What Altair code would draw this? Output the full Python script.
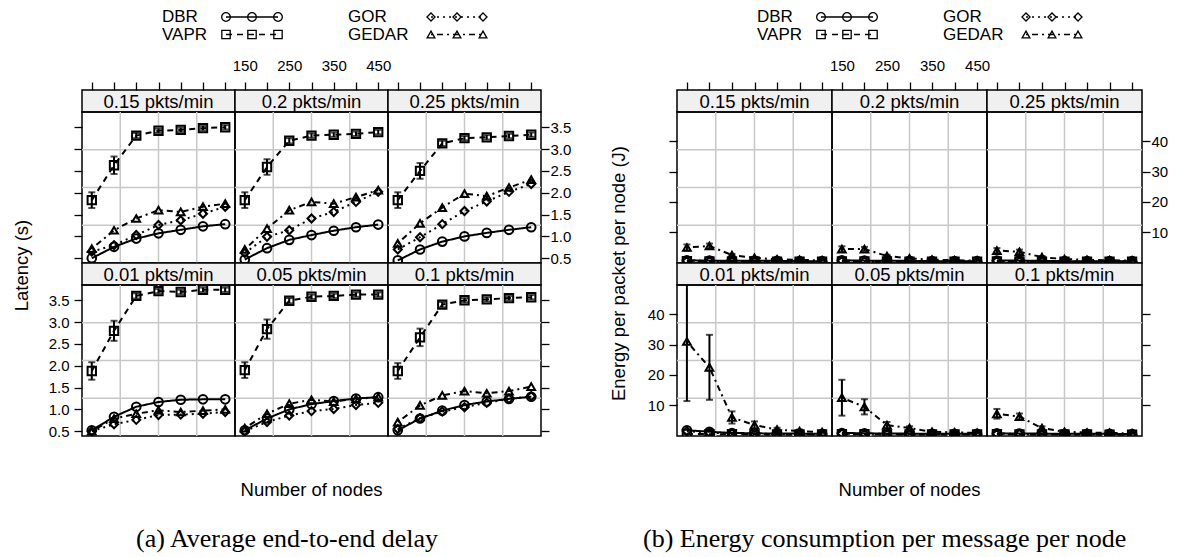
import altair as alt
import pandas as pd

FONT = "Liberation Sans"
SERIF = "Liberation Serif"
GRID = "#c8c8c8"

nodes = [150, 200, 250, 300, 350, 400, 450]
series = ["DBR", "VAPR", "GOR", "GEDAR"]
rates_top = ["0.15", "0.2", "0.25"]
rates_bottom = ["0.01", "0.05", "0.1"]

# ---------------- latency (s) ----------------
lat_dbr = {
    "0.01": [0.52, 0.83, 1.06, 1.17, 1.22, 1.23, 1.23],
    "0.05": [0.52, 0.79, 1.00, 1.12, 1.19, 1.25, 1.28],
    "0.1": [0.52, 0.79, 0.97, 1.10, 1.18, 1.24, 1.29],
    "0.15": [0.50, 0.76, 0.95, 1.07, 1.15, 1.23, 1.28],
    "0.2": [0.47, 0.73, 0.92, 1.03, 1.13, 1.21, 1.27],
    "0.25": [0.45, 0.70, 0.88, 1.00, 1.08, 1.15, 1.21],
}
lat_vapr = {
    "0.01": [1.88, 2.80, 3.60, 3.71, 3.69, 3.74, 3.74],
    "0.05": [1.90, 2.84, 3.49, 3.58, 3.60, 3.63, 3.63],
    "0.1": [1.88, 2.65, 3.40, 3.50, 3.52, 3.55, 3.57],
    "0.15": [1.83, 2.63, 3.31, 3.42, 3.44, 3.48, 3.50],
    "0.2": [1.83, 2.59, 3.19, 3.31, 3.33, 3.35, 3.39],
    "0.25": [1.83, 2.50, 3.13, 3.25, 3.27, 3.30, 3.33],
}
lat_vapr_err = {
    "0.01": [0.20, 0.23, 0.06, 0.05, 0.05, 0.05, 0.05],
    "0.05": [0.18, 0.22, 0.06, 0.05, 0.05, 0.05, 0.05],
    "0.1": [0.18, 0.20, 0.06, 0.05, 0.05, 0.05, 0.05],
    "0.15": [0.18, 0.20, 0.06, 0.05, 0.05, 0.05, 0.05],
    "0.2": [0.18, 0.18, 0.06, 0.05, 0.05, 0.05, 0.05],
    "0.25": [0.18, 0.18, 0.06, 0.05, 0.05, 0.05, 0.05],
}
lat_gor = {
    "0.01": [0.50, 0.66, 0.76, 0.87, 0.88, 0.90, 0.94],
    "0.05": [0.50, 0.71, 0.86, 0.96, 1.01, 1.10, 1.15],
    "0.1": [0.55, 0.80, 0.95, 1.05, 1.15, 1.24, 1.30],
    "0.15": [0.65, 0.80, 1.03, 1.26, 1.37, 1.52, 1.68],
    "0.2": [0.62, 0.99, 1.14, 1.41, 1.56, 1.79, 2.02],
    "0.25": [0.70, 0.98, 1.28, 1.58, 1.80, 2.02, 2.20],
}
lat_gedar = {
    "0.01": [0.50, 0.79, 0.90, 0.98, 0.94, 0.97, 1.00],
    "0.05": [0.57, 0.90, 1.13, 1.22, 1.18, 1.24, 1.28],
    "0.1": [0.71, 1.09, 1.32, 1.42, 1.37, 1.42, 1.52],
    "0.15": [0.72, 1.14, 1.41, 1.60, 1.56, 1.68, 1.75],
    "0.2": [0.70, 1.18, 1.60, 1.79, 1.75, 1.90, 2.06],
    "0.25": [0.84, 1.30, 1.66, 1.98, 1.92, 2.12, 2.30],
}

# ---------------- energy (J) ----------------
en_dbr = {
    "0.01": [1.8, 1.3, 0.9, 0.8, 0.7, 0.7, 0.6],
    "0.05": [0.9, 0.8, 0.7, 0.7, 0.6, 0.6, 0.6],
    "0.1": [0.8, 0.7, 0.7, 0.6, 0.6, 0.6, 0.5],
    "0.15": [0.8, 0.7, 0.6, 0.6, 0.6, 0.5, 0.5],
    "0.2": [0.8, 0.7, 0.6, 0.6, 0.5, 0.5, 0.5],
    "0.25": [0.7, 0.7, 0.6, 0.5, 0.5, 0.5, 0.5],
}
en_vapr = {
    "0.01": [0.6, 0.5, 0.5, 0.4, 0.4, 0.4, 0.4],
    "0.05": [0.5, 0.5, 0.4, 0.4, 0.4, 0.4, 0.4],
    "0.1": [0.5, 0.4, 0.4, 0.4, 0.4, 0.3, 0.3],
    "0.15": [0.5, 0.4, 0.4, 0.4, 0.3, 0.3, 0.3],
    "0.2": [0.4, 0.4, 0.4, 0.3, 0.3, 0.3, 0.3],
    "0.25": [0.4, 0.4, 0.3, 0.3, 0.3, 0.3, 0.3],
}
en_gor = {
    "0.01": [1.5, 1.0, 0.7, 0.6, 0.6, 0.5, 0.5],
    "0.05": [0.7, 0.6, 0.6, 0.5, 0.5, 0.5, 0.5],
    "0.1": [0.6, 0.6, 0.5, 0.5, 0.5, 0.5, 0.4],
    "0.15": [0.6, 0.6, 0.5, 0.5, 0.5, 0.4, 0.4],
    "0.2": [0.6, 0.5, 0.5, 0.5, 0.4, 0.4, 0.4],
    "0.25": [0.6, 0.5, 0.5, 0.4, 0.4, 0.4, 0.4],
}
en_gedar = {
    "0.01": [31.0, 22.5, 6.0, 3.5, 2.0, 1.5, 1.2],
    "0.05": [12.5, 9.5, 3.5, 2.5, 1.3, 1.1, 0.9],
    "0.1": [7.2, 6.3, 2.5, 1.3, 1.0, 0.9, 0.8],
    "0.15": [5.0, 5.5, 2.5, 1.6, 1.1, 0.9, 0.8],
    "0.2": [4.5, 4.5, 2.2, 1.4, 1.0, 0.8, 0.7],
    "0.25": [4.0, 3.6, 1.8, 1.2, 0.9, 0.8, 0.7],
}
en_gedar_err = {
    "0.01": [19.6, 10.7, 2.0, 1.2, 0.6, 0.5, 0.4],
    "0.05": [5.9, 2.5, 1.0, 0.6, 0.3, 0.3, 0.2],
    "0.1": [1.6, 1.0, 0.6, 0.3, 0.2, 0.2, 0.2],
    "0.15": [1.0, 0.8, 0.4, 0.3, 0.2, 0.2, 0.2],
    "0.2": [0.9, 0.7, 0.4, 0.3, 0.2, 0.2, 0.2],
    "0.25": [0.8, 0.7, 0.4, 0.3, 0.2, 0.2, 0.2],
}

x_title = "Number of nodes"
captions = ["(a) Average end-to-end delay",
            "(b) Energy consumption per message per node"]

records = []


def add(metric, name, vals, errs=None):
    for rate, v in vals.items():
        e = errs[rate] if errs else [0.0] * len(v)
        for n, y, er in zip(nodes, v, e):
            records.append(dict(metric=metric, series=name, rate=rate,
                                nodes=n, value=y, err=er))


add("lat", "DBR", lat_dbr)
add("lat", "VAPR", lat_vapr, lat_vapr_err)
add("lat", "GOR", lat_gor)
add("lat", "GEDAR", lat_gedar)
add("en", "DBR", en_dbr)
add("en", "VAPR", en_vapr)
add("en", "GOR", en_gor)
add("en", "GEDAR", en_gedar, en_gedar_err)
df = pd.DataFrame(records)

XDOM = [128, 472]
H = 151
S = 22
LEGH = 86
CAPH = 118
GAP = 136
TFS = 18.5
DASHES = [[1, 0], [8, 7], [2, 5], [2, 5, 8, 5]]
SHAPES = ["circle", "square", "diamond", "triangle-up"]
SIZES = [110, 80, 130, 150]

lat_cfg = dict(dom=[0.39, 3.85], ticks=[0.5, 1.0, 1.5, 2.0, 2.5, 3.0, 3.5],
               fmt=".1f", title="Latency (s)", tx=-61, ty=-20)
en_cfg = dict(dom=[-0.1, 49.6], ticks=[10, 20, 30, 40],
              fmt="d", title="Energy per packet per node (J)", tx=-59, ty=-12)

AX_COMMON = dict(tickSize=8, tickWidth=1.3, tickColor="black", domain=False,
                 grid=False, labelFont=FONT, labelFontSize=15,
                 labelColor="black", labelFlush=False, labelOverlap=False)
LABEL_EXPR = "datum.value % 100 == 50 ? datum.label : ''"
NOVIEW = alt.ViewBackground(stroke="transparent")


def xscale():
    return alt.Scale(domain=XDOM, nice=False, zero=False)


def blank(w, h):
    return alt.Chart(pd.DataFrame({"a": [0]})).mark_point(opacity=0).encode(
        x=alt.value(0), y=alt.value(0)).properties(width=w, height=h, view=NOVIEW)


def panel(metric, rate, row, col, W, cfg):
    d = df[(df.metric == metric) & (df.rate == rate)]
    xs = xscale()
    ys = alt.Scale(domain=cfg["dom"], nice=False, zero=False)
    y0, y1 = cfg["dom"]
    gx = pd.DataFrame({"g": [XDOM[0] + (XDOM[1] - XDOM[0]) * k / 4 for k in (1, 2, 3)]})
    gy = pd.DataFrame({"g": [y0 + (y1 - y0) * k / 4 for k in (1, 2, 3)]})

    if row == 1:
        xax = alt.Axis(**dict(AX_COMMON, orient="bottom", values=nodes, labelPadding=9,
                              labelExpr=LABEL_EXPR, labels=(col != 1), title=None))
    else:
        xax = None

    left_ax = None
    right_ax = None
    if col == 0:
        kw = dict(AX_COMMON, orient="left", values=cfg["ticks"], format=cfg["fmt"],
                  labels=(row == 1), labelPadding=5)
        if row == 1:
            kw.update(title=cfg["title"], titleFont=FONT, titleFontSize=TFS,
                      titleFontWeight="normal", titleColor="black",
                      titleX=cfg["tx"], titleY=cfg["ty"], titleAngle=270,
                      titleBaseline="middle", titleAlign="center")
        else:
            kw.update(title=None)
        left_ax = alt.Axis(**kw)
    if col == 2:
        right_ax = alt.Axis(**dict(AX_COMMON, orient="right", values=cfg["ticks"],
                                   format=cfg["fmt"], labels=(row == 0),
                                   labelPadding=1, title=None))

    vgrid = alt.Chart(gx).mark_rule(color=GRID, strokeWidth=1.5).encode(
        x=alt.X("g:Q", scale=xs, axis=xax))
    hgrid = alt.Chart(gy).mark_rule(color=GRID, strokeWidth=1.5).encode(
        y=alt.Y("g:Q", scale=ys, axis=left_ax))
    hgrid2 = alt.Chart(gy).mark_rule(opacity=0).encode(
        y=alt.Y("g:Q", scale=ys, axis=right_ax))

    ex = alt.X("nodes:Q", scale=xs, axis=None)
    ey = alt.Y("value:Q", scale=ys, axis=None)
    base = alt.Chart(d)
    lines = base.mark_line(color="black", strokeWidth=2, clip=True).encode(
        x=ex, y=ey, detail="series:N",
        strokeDash=alt.StrokeDash("series:N", scale=alt.Scale(domain=series, range=DASHES), legend=None),
        order="nodes:Q")
    pts = base.mark_point(filled=False, color="black", strokeWidth=2, opacity=1, clip=True).encode(
        x=ex, y=ey,
        shape=alt.Shape("series:N", scale=alt.Scale(domain=series, range=SHAPES), legend=None),
        size=alt.Size("series:N", scale=alt.Scale(domain=series, range=SIZES), legend=None))
    eb = base.transform_filter("datum.err > 0").transform_calculate(
        lo="datum.value - datum.err", hi="datum.value + datum.err")
    rule = eb.mark_rule(color="black", strokeWidth=2, clip=True).encode(
        x=ex, y=alt.Y("lo:Q", scale=ys, axis=None), y2="hi:Q")
    cap_lo = eb.mark_tick(orient="horizontal", color="black", size=7, thickness=2, clip=True).encode(
        x=ex, y=alt.Y("lo:Q", scale=ys, axis=None))
    cap_hi = eb.mark_tick(orient="horizontal", color="black", size=7, thickness=2, clip=True).encode(
        x=ex, y=alt.Y("hi:Q", scale=ys, axis=None))
    return alt.layer(vgrid, hgrid, hgrid2, lines, rule, cap_lo, cap_hi, pts).resolve_axis(
        y="independent").properties(width=W, height=H)


def strip(rate, row, col, W):
    lab = pd.DataFrame({"label": [rate + " pkts/min"]})
    txt = alt.Chart(lab).mark_text(font=FONT, fontSize=TFS, color="black").encode(
        text="label:N", x=alt.value(W / 2), y=alt.value(S / 2 + 1))
    if row == 0:
        kw = dict(AX_COMMON, orient="top", values=nodes, labels=(col == 1),
                  labelPadding=9, labelExpr=LABEL_EXPR, title=None)
        axl = alt.Chart(pd.DataFrame({"nodes": nodes})).mark_point(opacity=0).encode(
            x=alt.X("nodes:Q", scale=xscale(), axis=alt.Axis(**kw)))
        ch = alt.layer(axl, txt)
    else:
        ch = txt
    return ch.properties(width=W, height=S,
                         view=alt.ViewBackground(fill="#f0f0f0", stroke="black", strokeWidth=1.5))


leg_df = pd.DataFrame({"series": series, "lcol": [0, 0, 1, 1], "lrow": [0, 1, 0, 1]})
leg_pts = pd.DataFrame([dict(series=s, lcol=c, lrow=r, k=k)
                        for s, c, r in zip(series, [0, 0, 1, 1], [0, 1, 0, 1])
                        for k in range(3)])


def legend(W):
    lx = alt.Scale(domain=[0, 460], range=[0, 460], nice=False, zero=False)
    ly = alt.Scale(domain=[0, 40], range=[0, 40], nice=False, zero=False)
    txt = alt.Chart(leg_df).transform_calculate(
        tx="datum.lcol == 0 ? 80 : 266", ty="13 + 17.5 * datum.lrow").mark_text(
        font=FONT, fontSize=17, color="black", align="left", baseline="middle").encode(
        x=alt.X("tx:Q", scale=lx, axis=None), y=alt.Y("ty:Q", scale=ly, axis=None), text="series:N")
    pbase = alt.Chart(leg_pts).transform_calculate(
        sx="(datum.lcol == 0 ? 144 : 349) + 26 * datum.k", sy="13 + 17.5 * datum.lrow")
    lns = pbase.mark_line(color="black", strokeWidth=1.5).encode(
        x=alt.X("sx:Q", scale=lx, axis=None), y=alt.Y("sy:Q", scale=ly, axis=None),
        detail="series:N", order="k:Q",
        strokeDash=alt.StrokeDash("series:N", scale=alt.Scale(domain=series, range=[[1, 0], [6, 5], [2, 4], [2, 4, 6, 4]]), legend=None))
    pts = pbase.mark_point(filled=False, color="black", strokeWidth=1.3, opacity=1).encode(
        x=alt.X("sx:Q", scale=lx, axis=None), y=alt.Y("sy:Q", scale=ly, axis=None),
        shape=alt.Shape("series:N", scale=alt.Scale(domain=series, range=SHAPES), legend=None),
        size=alt.Size("series:N", scale=alt.Scale(domain=series, range=[75, 60, 95, 105]), legend=None))
    return alt.layer(lns, pts, txt).properties(width=W, height=LEGH, view=NOVIEW)


def caption(text, lx0, W):
    cd = pd.DataFrame({"t": [text]})
    return alt.Chart(cd).mark_text(font=SERIF, fontSize=26, color="black",
                                   align="left", baseline="middle").encode(
        text="t:N", x=alt.value(lx0), y=alt.value(103)).properties(width=W, height=CAPH, view=NOVIEW)


def xlabel(W):
    cd = pd.DataFrame({"t": [x_title]})
    return alt.Chart(cd).mark_text(font=FONT, fontSize=TFS, color="black",
                                   align="center", baseline="middle").encode(
        text="t:N", x=alt.value(W / 2), y=alt.value(54)).properties(width=W, height=CAPH, view=NOVIEW)


WL, WR = 153, 155
cells = []
# row 0: legends
cells += [legend(WL), blank(WL, LEGH), blank(WL, LEGH), blank(GAP, LEGH),
          legend(WR), blank(WR, LEGH), blank(WR, LEGH)]
for r, rates in enumerate([rates_top, rates_bottom]):
    cells += [strip(rt, r, c, WL) for c, rt in enumerate(rates)] + [blank(GAP, S)] + \
             [strip(rt, r, c, WR) for c, rt in enumerate(rates)]
    cells += [panel("lat", rt, r, c, WL, lat_cfg) for c, rt in enumerate(rates)] + [blank(GAP, H)] + \
             [panel("en", rt, r, c, WR, en_cfg) for c, rt in enumerate(rates)]
cells += [caption(captions[0], 54, WL), xlabel(WL), blank(WL, CAPH), blank(GAP, CAPH),
          caption(captions[1], -34, WR), xlabel(WR), blank(WR, CAPH)]

chart = alt.concat(*cells, columns=7, spacing=0, bounds="flush", align="each",
                   center=False).properties(
    padding={"left": 11, "top": 0, "right": 5, "bottom": 4},
    background="white",
).configure_view(stroke="black", strokeWidth=1.5)

chart.save("out.html", embed_options={"renderer": "svg", "actions": False})
